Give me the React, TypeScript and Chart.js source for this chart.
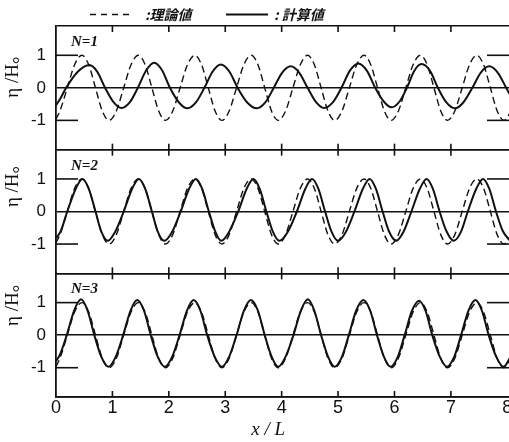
import React, { useEffect, useRef } from 'react';
import { Chart, registerables } from 'chart.js';

Chart.register(...registerables);

// ---------------- data ----------------
const X_TICKS = [0, 1, 2, 3, 4, 5, 6, 7, 8];
const X_MARKS = [1, 2, 3, 4, 5, 6, 7];
const Y_TICKS = [-1.9, -1, 0, 1, 1.9];
const Y_TICK_LABELS = ['', '-1', '0', '1', ''];
const Y_MARKS = [-1, 1];
const X_TITLE = 'x / L';
const Y_TITLE = 'η /H。';
const PANEL_LABELS = ['N=1', 'N=2', 'N=3'];
const LEGEND_LABELS = [':理論値', ': 計算値'];

// theoretical values (dashed), same in all three panels
const THEORY_X = [
  0, 0.07, 0.2, 0.33, 0.46, 0.58, 0.7, 0.82, 0.94,
  1.07, 1.2, 1.33, 1.46, 1.58, 1.7, 1.82, 1.94,
  2.07, 2.2, 2.33, 2.46, 2.58, 2.7, 2.82, 2.94,
  3.07, 3.2, 3.33, 3.46, 3.58, 3.7, 3.82, 3.94,
  4.07, 4.2, 4.33, 4.46, 4.58, 4.7, 4.82, 4.94,
  5.07, 5.2, 5.33, 5.46, 5.58, 5.7, 5.82, 5.94,
  6.07, 6.2, 6.33, 6.46, 6.58, 6.7, 6.82, 6.94,
  7.07, 7.2, 7.33, 7.46, 7.58, 7.7, 7.82, 7.94,
  8.07,
];
const THEORY_Y = [
  -0.96, -0.71, 0, 0.71, 1.0, 0.71, 0, -0.71, -1.0,
  -0.71, 0, 0.71, 1.0, 0.71, 0, -0.71, -1.0,
  -0.71, 0, 0.71, 1.0, 0.71, 0, -0.71, -1.0,
  -0.71, 0, 0.71, 1.0, 0.71, 0, -0.71, -1.0,
  -0.71, 0, 0.71, 1.0, 0.71, 0, -0.71, -1.0,
  -0.71, 0, 0.71, 1.0, 0.71, 0, -0.71, -1.0,
  -0.71, 0, 0.71, 1.0, 0.71, 0, -0.71, -1.0,
  -0.71, 0, 0.71, 1.0, 0.71, 0, -0.71, -1.0,
  -0.71,
];

// computed values (solid), N=1
const CALC1_X = [
  0, 0.08, 0.18, 0.39, 0.59, 0.73, 0.87, 1.02, 1.16,
  1.31, 1.45, 1.6, 1.74, 1.88, 2.02, 2.18, 2.33,
  2.48, 2.63, 2.78, 2.92, 3.07, 3.22, 3.39, 3.56,
  3.71, 3.86, 4.01, 4.16, 4.31, 4.46, 4.61, 4.75,
  4.91, 5.06, 5.21, 5.36, 5.51, 5.66, 5.81, 5.95,
  6.09, 6.22, 6.35, 6.48, 6.63, 6.77, 6.92, 7.07,
  7.22, 7.38, 7.53, 7.68, 7.83, 7.98, 8.12,
];
const CALC1_Y = [
  -0.54, -0.32, 0, 0.5, 0.7, 0.5, 0, -0.44, -0.62,
  -0.44, 0, 0.54, 0.77, 0.54, 0, -0.45, -0.63,
  -0.45, 0, 0.51, 0.72, 0.51, 0, -0.45, -0.63,
  -0.45, 0, 0.47, 0.66, 0.47, 0, -0.44, -0.62,
  -0.44, 0, 0.53, 0.75, 0.53, 0, -0.42, -0.6,
  -0.42, 0, 0.52, 0.73, 0.52, 0, -0.45, -0.63,
  -0.45, 0, 0.47, 0.66, 0.47, 0, -0.44,
];

// computed values (solid), N=2
const CALC2_X = [
  0, 0.08, 0.2, 0.35, 0.47, 0.58, 0.7, 0.8, 0.92,
  1.05, 1.2, 1.35, 1.47, 1.58, 1.7, 1.8, 1.92,
  2.06, 2.21, 2.36, 2.48, 2.59, 2.71, 2.82, 2.93,
  3.07, 3.23, 3.38, 3.5, 3.61, 3.73, 3.84, 3.96,
  4.11, 4.27, 4.42, 4.54, 4.65, 4.77, 4.88, 5.0,
  5.14, 5.29, 5.44, 5.56, 5.67, 5.79, 5.9, 6.03,
  6.16, 6.3, 6.45, 6.57, 6.68, 6.8, 6.92, 7.05,
  7.18, 7.3, 7.45, 7.57, 7.68, 7.8, 7.92, 8.05,
];
const CALC2_Y = [
  -0.82, -0.62, 0, 0.7, 1.0, 0.7, 0, -0.6, -0.9,
  -0.62, 0, 0.7, 1.0, 0.7, 0, -0.6, -0.9,
  -0.62, 0, 0.7, 1.0, 0.7, 0, -0.6, -0.9,
  -0.62, 0, 0.7, 1.0, 0.7, 0, -0.6, -0.9,
  -0.62, 0, 0.7, 1.0, 0.7, 0, -0.6, -0.9,
  -0.62, 0, 0.7, 1.0, 0.7, 0, -0.6, -0.9,
  -0.62, 0, 0.7, 1.0, 0.7, 0, -0.6, -0.9,
  -0.62, 0, 0.7, 1.0, 0.7, 0, -0.6, -0.9,
];

// computed values (solid), N=3
const CALC3_X = [
  0, 0.07, 0.19, 0.32, 0.445, 0.56, 0.68, 0.8, 0.93,
  1.06, 1.19, 1.32, 1.44, 1.56, 1.68, 1.8, 1.93,
  2.06, 2.19, 2.32, 2.44, 2.56, 2.68, 2.81, 2.94,
  3.07, 3.2, 3.33, 3.455, 3.58, 3.7, 3.82, 3.94,
  4.07, 4.21, 4.34, 4.465, 4.58, 4.7, 4.82, 4.94,
  5.07, 5.19, 5.32, 5.45, 5.57, 5.69, 5.81, 5.93,
  6.06, 6.18, 6.31, 6.435, 6.55, 6.67, 6.8, 6.93,
  7.06, 7.18, 7.31, 7.435, 7.55, 7.67, 7.8, 7.935,
  8.06,
];
const CALC3_Y = [
  -0.8, -0.6, 0, 0.75, 1.1, 0.75, 0, -0.65, -0.97,
  -0.66, 0, 0.75, 1.08, 0.75, 0, -0.65, -0.97,
  -0.66, 0, 0.75, 1.08, 0.75, 0, -0.65, -0.97,
  -0.66, 0, 0.75, 1.08, 0.75, 0, -0.65, -0.97,
  -0.66, 0, 0.75, 1.1, 0.75, 0, -0.65, -0.97,
  -0.66, 0, 0.75, 1.08, 0.75, 0, -0.65, -0.97,
  -0.66, 0, 0.75, 1.06, 0.75, 0, -0.65, -0.97,
  -0.66, 0, 0.75, 1.08, 0.75, 0, -0.65, -0.97,
  -0.66,
];

// ---------------- styling ----------------
const INK = '#111';
const SANS = '"Liberation Sans", Arial, sans-serif';
const SERIF = '"Liberation Serif", "Times New Roman", serif';
const TITLE_FONT = '"Liberation Serif", "Noto Sans CJK JP", serif';
const CJK = '"Noto Sans CJK JP", sans-serif';

const PANELS = [
  { id: 'y1', label: PANEL_LABELS[0], xs: CALC1_X, ys: CALC1_Y, titleSpaces: 4 },
  { id: 'y2', label: PANEL_LABELS[1], xs: CALC2_X, ys: CALC2_Y, titleSpaces: 1 },
  { id: 'y3', label: PANEL_LABELS[2], xs: CALC3_X, ys: CALC3_Y, titleSpaces: 0 },
];

const toPts = (xs: number[], ys: number[]) => xs.map((x, i) => ({ x, y: ys[i] }));

const makeY = (titleSpaces: number) => ({
  type: 'linear',
  position: 'left',
  stack: 'panels',
  stackWeight: 1,
  min: -1.9,
  max: 1.9,
  afterBuildTicks: (s: any) => {
    s.ticks = Y_TICKS.map((v) => ({ value: v }));
  },
  afterFit: (s: any) => {
    s.width = 56;
  },
  ticks: {
    padding: 10,
    color: INK,
    autoSkip: false,
    font: { family: SANS, size: 17 },
    callback: (_v: any, i: number) => Y_TICK_LABELS[i],
  },
  grid: {
    drawTicks: false,
    lineWidth: 1.6,
    color: (c: any) =>
      c.tick && c.tick.value !== 1 && c.tick.value !== -1 ? INK : 'rgba(0,0,0,0)',
  },
  border: { display: true, color: INK, width: 1.8 },
  title: {
    display: true,
    text: Y_TITLE + ' '.repeat(titleSpaces),
    align: 'end',
    color: INK,
    font: { family: TITLE_FONT, size: 19 },
    padding: { top: 1.4, bottom: 0 },
  },
});

const decor = {
  id: 'decor',
  afterDraw(chart: any) {
    const { ctx, chartArea: a, scales } = chart;
    const xs = scales.x;
    ctx.save();
    ctx.strokeStyle = INK;
    ctx.fillStyle = INK;
    ctx.lineWidth = 1.6;
    ctx.setLineDash([]);
    const seg = (x1: number, y1: number, x2: number, y2: number) => {
      ctx.beginPath();
      ctx.moveTo(x1, y1);
      ctx.lineTo(x2, y2);
      ctx.stroke();
    };
    PANELS.forEach((p) => {
      const ys = scales[p.id];
      Y_MARKS.forEach((v) => {
        const py = ys.getPixelForValue(v);
        seg(a.left, py, a.left + 22, py);
        seg(a.right - 22, py, a.right, py);
      });
      X_MARKS.forEach((v) => {
        const px = xs.getPixelForValue(v);
        seg(px, ys.top, px, ys.top + 6);
        seg(px, ys.bottom - 6, px, ys.bottom);
      });
      ctx.font = `italic bold 15px ${SERIF}`;
      ctx.textBaseline = 'middle';
      ctx.textAlign = 'left';
      ctx.fillText(p.label, a.left + 15, ys.top + 16);
    });
    // legend
    const ly = 14.5;
    ctx.lineWidth = 1.5;
    ctx.setLineDash([6, 5]);
    seg(90, ly, 132, ly);
    ctx.setLineDash([]);
    ctx.lineWidth = 2;
    seg(226, ly, 268, ly);
    ctx.font = `italic bold 14px ${CJK}`;
    ctx.textBaseline = 'middle';
    ctx.textAlign = 'left';
    ctx.fillText(LEGEND_LABELS[0], 145, ly);
    ctx.fillText(LEGEND_LABELS[1], 274, ly);
    ctx.restore();
  },
};

export default function App() {
  const ref = useRef<HTMLCanvasElement>(null);

  useEffect(() => {
    const canvas = ref.current;
    if (!canvas) return;
    const datasets: any[] = [];
    PANELS.forEach((p) => {
      datasets.push({
        label: '計算値',
        data: toPts(p.xs, p.ys),
        xAxisID: 'x',
        yAxisID: p.id,
        borderColor: INK,
        borderWidth: 2,
        pointRadius: 0,
        fill: false,
        cubicInterpolationMode: 'monotone',
      });
      datasets.push({
        label: '理論値',
        data: toPts(THEORY_X, THEORY_Y),
        xAxisID: 'x',
        yAxisID: p.id,
        borderColor: INK,
        borderWidth: 1.4,
        borderDash: [7, 4],
        pointRadius: 0,
        fill: false,
        cubicInterpolationMode: 'monotone',
      });
    });

    const chart = new Chart(canvas, {
      type: 'line',
      data: { datasets },
      options: {
        animation: false,
        responsive: false,
        devicePixelRatio: 1,
        layout: { padding: { top: 26, right: 0, bottom: 0, left: 0 } },
        plugins: { legend: { display: false }, tooltip: { enabled: false }, title: { display: false } },
        scales: {
          x: {
            type: 'linear',
            min: 0,
            max: 8.03,
            afterBuildTicks: (s: any) => {
              s.ticks = X_TICKS.map((v) => ({ value: v }));
            },
            afterFit: (s: any) => {
              s.height = 45;
              s.paddingLeft = 0;
              s.paddingRight = 0;
            },
            grid: { display: false, drawTicks: false },
            border: { display: true, color: INK, width: 1.8 },
            ticks: {
              padding: 0,
              color: INK,
              font: { family: SANS, size: 18 },
              maxRotation: 0,
              autoSkip: false,
            },
            title: {
              display: true,
              text: X_TITLE + ' '.repeat(6),
              color: INK,
              font: { family: SERIF, style: 'italic', size: 19 },
              padding: { top: 0, bottom: 1 },
            },
          },
          y3: makeY(PANELS[2].titleSpaces),
          y2: makeY(PANELS[1].titleSpaces),
          y1: makeY(PANELS[0].titleSpaces),
        } as any,
      } as any,
      plugins: [decor],
    });
    return () => chart.destroy();
  }, []);

  return (
    <div
      style={{
        position: 'fixed',
        left: 0,
        top: 0,
        width: 509,
        height: 442,
        background: '#fff',
        overflow: 'hidden',
      }}
    >
      <canvas ref={ref} width={509} height={442} style={{ display: 'block', width: 509, height: 442 }} />
    </div>
  );
}
